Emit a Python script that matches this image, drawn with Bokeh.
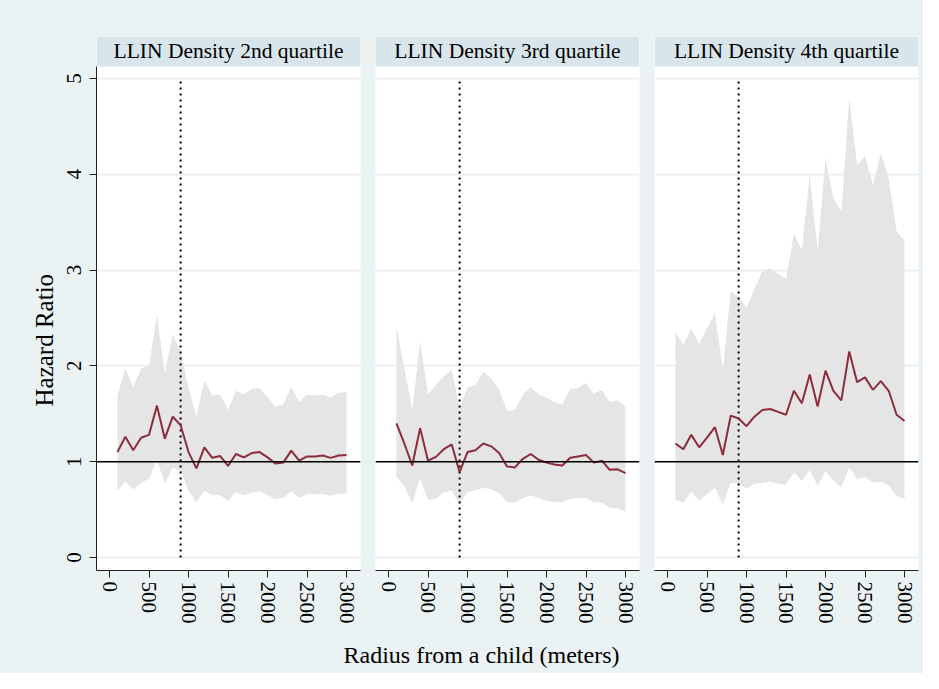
from bokeh.plotting import figure
from bokeh.layouts import row, column
from bokeh.models import FixedTicker, Span, Title, Range1d
from bokeh.embed import file_html
from bokeh.resources import INLINE
from bokeh.core.properties import value

# ---------------- data ----------------
radius = [100, 200, 300, 400, 500, 600, 700, 800, 900, 1000,
          1100, 1200, 1300, 1400, 1500, 1600, 1700, 1800, 1900, 2000,
          2100, 2200, 2300, 2400, 2500, 2600, 2700, 2800, 2900, 3000]

panel_titles = ["LLIN Density 2nd quartile", "LLIN Density 3rd quartile", "LLIN Density 4th quartile"]
x_title = "Radius from a child (meters)"
y_title = "Hazard Ratio"

hr_q2 = [1.10, 1.26, 1.12, 1.25, 1.28, 1.585, 1.24, 1.47, 1.38, 1.10,
         0.93, 1.15, 1.04, 1.06, 0.955, 1.08, 1.045, 1.09, 1.10, 1.045,
         0.98, 0.99, 1.115, 1.01, 1.055, 1.055, 1.065, 1.04, 1.065, 1.07]
hi_q2 = [1.69, 1.975, 1.78, 1.975, 2.00, 2.53, 1.92, 2.33, 2.15, 1.77,
         1.47, 1.85, 1.69, 1.70, 1.54, 1.74, 1.70, 1.76, 1.77, 1.68,
         1.575, 1.60, 1.78, 1.62, 1.70, 1.69, 1.70, 1.67, 1.72, 1.73]
lo_q2 = [0.70, 0.79, 0.71, 0.78, 0.82, 1.02, 0.77, 0.94, 0.90, 0.70,
         0.575, 0.70, 0.65, 0.65, 0.59, 0.68, 0.65, 0.68, 0.69, 0.65,
         0.61, 0.62, 0.69, 0.62, 0.66, 0.66, 0.66, 0.645, 0.665, 0.665]

hr_q3 = [1.40, 1.19, 0.96, 1.35, 1.01, 1.05, 1.13, 1.18, 0.89, 1.10,
         1.12, 1.19, 1.16, 1.09, 0.95, 0.94, 1.03, 1.08, 1.02, 0.99,
         0.97, 0.96, 1.04, 1.055, 1.07, 0.99, 1.01, 0.915, 0.92, 0.88]
hi_q3 = [2.41, 1.975, 1.54, 2.25, 1.70, 1.80, 1.89, 1.96, 1.56, 1.78,
         1.80, 1.94, 1.87, 1.75, 1.53, 1.54, 1.70, 1.78, 1.70, 1.67,
         1.62, 1.60, 1.76, 1.77, 1.82, 1.71, 1.75, 1.62, 1.64, 1.575]
lo_q3 = [0.84, 0.74, 0.57, 0.83, 0.60, 0.61, 0.68, 0.70, 0.55, 0.68,
         0.70, 0.73, 0.71, 0.67, 0.58, 0.57, 0.62, 0.65, 0.62, 0.59,
         0.58, 0.575, 0.61, 0.62, 0.62, 0.575, 0.575, 0.52, 0.51, 0.48]

hr_q4 = [1.19, 1.13, 1.28, 1.15, 1.25, 1.36, 1.07, 1.48, 1.45, 1.37,
         1.47, 1.54, 1.55, 1.52, 1.49, 1.74, 1.61, 1.91, 1.575, 1.95,
         1.74, 1.64, 2.15, 1.83, 1.88, 1.75, 1.84, 1.74, 1.49, 1.425]
hi_q4 = [2.36, 2.22, 2.39, 2.23, 2.39, 2.55, 1.96, 2.78, 2.72, 2.61,
         2.80, 2.99, 3.02, 2.96, 2.91, 3.38, 3.21, 3.99, 3.20, 4.17,
         3.75, 3.61, 4.79, 4.10, 4.19, 3.89, 4.22, 3.96, 3.40, 3.31]
lo_q4 = [0.60, 0.57, 0.69, 0.59, 0.66, 0.73, 0.55, 0.78, 0.77, 0.72,
         0.77, 0.78, 0.79, 0.77, 0.76, 0.89, 0.80, 0.91, 0.75, 0.90,
         0.80, 0.73, 0.94, 0.82, 0.84, 0.78, 0.79, 0.75, 0.645, 0.61]

x_ticks = [0, 500, 1000, 1500, 2000, 2500, 3000]
y_ticks = [0, 1, 2, 3, 4, 5]
cutoff_radius = 900
null_hr = 1

# ---------------- style ----------------
BG = "#EAF2F3"
STRIP = "#D8E5EA"
BAND = "#E5E5E5"
LINE = "#8C2D3B"
AXIS = "#222222"
FONT = "Liberation Serif"

X0, X1 = -165, 3177
Y0, YTOP = -0.136, 5.125
HEADER = 0.313
TOTAL_W = 923
LABEL_H = 43

series = [(hr_q2, lo_q2, hi_q2), (hr_q3, lo_q3, hi_q3), (hr_q4, lo_q4, hi_q4)]

panels = []
for i, (hr, lo, hi) in enumerate(series):
    left = 96 if i == 0 else 8
    right = 5 if i == 2 else 7
    p = figure(frame_width=264, frame_height=534,
               x_range=Range1d(X0, X1), y_range=Range1d(Y0, YTOP + HEADER),
               output_backend="svg", toolbar_location=None,
               min_border_left=left, min_border_right=right,
               min_border_top=36, min_border_bottom=60,
               background_fill_color="white", border_fill_color=BG,
               outline_line_color=None)
    p.xgrid.visible = False
    p.ygrid.ticker = FixedTicker(ticks=y_ticks)
    p.ygrid.grid_line_color = BG
    p.ygrid.grid_line_width = 2

    # header strip
    p.quad(left=X0, right=X1, bottom=YTOP, top=YTOP + HEADER,
           fill_color=STRIP, line_color=None)
    p.text(x=[(X0 + X1) / 2], y=[YTOP + HEADER / 2], text=[panel_titles[i]],
           text_align="center", text_baseline="middle",
           text_font=value(FONT), text_font_size="21.5px", text_color="black")

    # CI band and estimate
    p.varea(x=radius, y1=lo, y2=hi, fill_color=BAND)
    p.add_layout(Span(location=null_hr, dimension="width",
                      line_color="black", line_width=1.5))
    p.segment(x0=[cutoff_radius], y0=[y_ticks[0]], x1=[cutoff_radius], y1=[y_ticks[-1]],
              line_color="black", line_width=2, line_dash="2 4")
    p.line(radius, hr, line_color=LINE, line_width=2)

    # x axis
    xa = p.xaxis[0]
    xa.ticker = FixedTicker(ticks=x_ticks)
    xa.major_label_orientation = "vertical"
    xa.major_label_text_font = FONT
    xa.major_label_text_font_size = "21px"
    xa.major_label_text_color = "black"
    xa.major_tick_in = 0
    xa.major_tick_out = 7
    xa.minor_tick_line_color = None
    xa.axis_line_color = AXIS
    xa.major_tick_line_color = AXIS
    xa.major_label_standoff = 4

    ya = p.yaxis[0]
    if i == 0:
        ya.ticker = FixedTicker(ticks=y_ticks)
        ya.bounds = (Y0, YTOP)
        ya.major_label_orientation = "parallel"
        ya.major_label_text_font = FONT
        ya.major_label_text_font_size = "21px"
        ya.major_label_text_color = "black"
        ya.major_tick_in = 0
        ya.major_tick_out = 7
        ya.minor_tick_line_color = None
        ya.axis_line_color = AXIS
        ya.major_tick_line_color = AXIS
        ya.major_label_standoff = 8
        p.add_layout(Title(text=y_title, align="left", offset=164,
                           text_font=FONT, text_font_size="25px",
                           text_font_style="normal", text_color="black",
                           standoff=14), "left")
    else:
        ya.visible = False
    panels.append(p)

# shared x-axis title in its own strip, centred under the panels like the original
lab = figure(width=TOTAL_W, height=LABEL_H,
             x_range=Range1d(0, TOTAL_W), y_range=Range1d(0, LABEL_H),
             output_backend="svg", toolbar_location=None,
             min_border_left=0, min_border_right=0, min_border_top=0, min_border_bottom=0,
             background_fill_color=BG, border_fill_color=BG, outline_line_color=None)
lab.axis.visible = False
lab.grid.visible = False
lab.text(x=[481], y=[LABEL_H - 24], text=[x_title], text_align="center",
         text_baseline="middle", text_font=value(FONT), text_font_size="24px",
         text_color="black")

layout = column(row(*panels, styles={"background-color": BG}), lab,
                styles={"background-color": BG})
open("out.html", "w").write(file_html(layout, INLINE))
